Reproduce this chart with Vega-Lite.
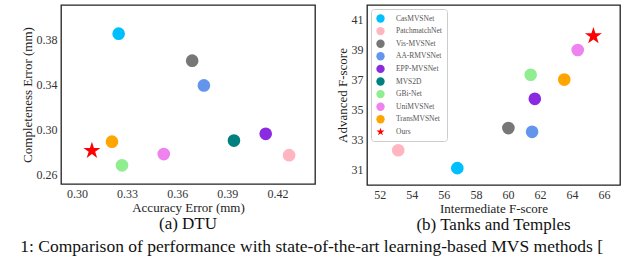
{
  "$schema": "https://vega.github.io/schema/vega-lite/v6.json",
  "padding": {"left": 20, "top": 4, "right": 0, "bottom": 0},
  "background": "white",
  "datasets": {
    "dtu": [
      {"method": "CasMVSNet", "x": 0.325, "y": 0.385},
      {"method": "PatchmatchNet", "x": 0.427, "y": 0.277},
      {"method": "Vis-MVSNet", "x": 0.369, "y": 0.361},
      {"method": "AA-RMVSNet", "x": 0.376, "y": 0.339},
      {"method": "EPP-MVSNet", "x": 0.413, "y": 0.296},
      {"method": "MVS2D", "x": 0.394, "y": 0.290},
      {"method": "GBi-Net", "x": 0.327, "y": 0.268},
      {"method": "UniMVSNet", "x": 0.352, "y": 0.278},
      {"method": "TransMVSNet", "x": 0.321, "y": 0.289},
      {"method": "Ours", "x": 0.309, "y": 0.281}
    ],
    "tt": [
      {"method": "CasMVSNet", "x": 56.84, "y": 31.12},
      {"method": "PatchmatchNet", "x": 53.15, "y": 32.31},
      {"method": "Vis-MVSNet", "x": 60.03, "y": 33.78},
      {"method": "AA-RMVSNet", "x": 61.51, "y": 33.53},
      {"method": "EPP-MVSNet", "x": 61.68, "y": 35.72},
      {"method": "GBi-Net", "x": 61.42, "y": 37.32},
      {"method": "UniMVSNet", "x": 64.36, "y": 38.96},
      {"method": "TransMVSNet", "x": 63.52, "y": 37.00},
      {"method": "Ours", "x": 65.34, "y": 39.89}
    ]
  },
  "title": {
    "text": "1: Comparison of performance with state-of-the-art learning-based MVS methods [",
    "orient": "bottom",
    "font": "Liberation Serif",
    "fontSize": 17.5,
    "fontWeight": "normal",
    "color": "#111",
    "offset": 4
  },
  "spacing": 19,
  "resolve": {"legend": {"color": "independent", "shape": "independent"}},
  "config": {
    "view": {"stroke": "#222", "strokeWidth": 1.3},
    "axis": {
      "grid": false, "ticks": false, "domain": false,
      "labelFont": "Liberation Serif", "labelFontSize": 12, "labelColor": "#333", "labelPadding": 4,
      "titleFont": "Liberation Serif", "titleFontSize": 13, "titleFontWeight": "normal", "titleColor": "#222", "titlePadding": 2
    },
    "title": {"font": "Liberation Serif", "fontSize": 17, "fontWeight": "normal", "color": "#111"}
  },
  "hconcat": [
    {
      "width": 254, "height": 179,
      "data": {"name": "dtu"},
      "title": {"text": "(a) DTU", "orient": "bottom", "offset": 2, "frame": "group"},
      "mark": {"type": "point", "filled": true, "opacity": 1},
      "encoding": {
        "x": {"field": "x", "type": "quantitative", "title": "Accuracy Error (mm)",
              "scale": {"domain": [0.2905, 0.4425], "nice": false, "zero": false},
              "axis": {"values": [0.30, 0.33, 0.36, 0.39, 0.42], "format": ".2f"}},
        "y": {"field": "y", "type": "quantitative", "title": "Completeness Error (mm)",
              "scale": {"domain": [0.2514, 0.4105], "nice": false, "zero": false},
              "axis": {"values": [0.26, 0.30, 0.34, 0.38], "format": ".2f"}},
        "color": {"field": "method", "type": "nominal", "legend": null,
                  "scale": {"domain": ["CasMVSNet", "PatchmatchNet", "Vis-MVSNet", "AA-RMVSNet", "EPP-MVSNet", "MVS2D", "GBi-Net", "UniMVSNet", "TransMVSNet", "Ours"],
                            "range": ["#00bfff", "#ffb6c1", "#777777", "#6495ed", "#8a2be2", "#008080", "#90ee90", "#ee82ee", "#ffa500", "#ff0000"]}},
        "shape": {"field": "method", "type": "nominal", "legend": null,
                  "scale": {"domain": ["CasMVSNet", "PatchmatchNet", "Vis-MVSNet", "AA-RMVSNet", "EPP-MVSNet", "MVS2D", "GBi-Net", "UniMVSNet", "TransMVSNet", "Ours"],
                            "range": ["circle", "circle", "circle", "circle", "circle", "circle", "circle", "circle", "circle", "M0,-1L0.2245,-0.309L0.951,-0.309L0.3633,0.118L0.588,0.809L0,0.382L-0.588,0.809L-0.3633,0.118L-0.951,-0.309L-0.2245,-0.309Z"]}},
        "size": {"condition": {"test": "datum.method === 'Ours'", "value": 320}, "value": 160}
      }
    },
    {
      "width": 253, "height": 180,
      "data": {"name": "tt"},
      "title": {"text": "(b) Tanks and Temples", "orient": "bottom", "offset": 2, "frame": "group"},
      "mark": {"type": "point", "filled": true, "opacity": 1},
      "encoding": {
        "x": {"field": "x", "type": "quantitative", "title": "Intermediate F-score",
              "scale": {"domain": [51.2, 67.0], "nice": false, "zero": false},
              "axis": {"values": [52, 54, 56, 58, 60, 62, 64, 66]}},
        "y": {"field": "y", "type": "quantitative", "title": "Advanced F-score",
              "scale": {"domain": [30.0, 41.95], "nice": false, "zero": false},
              "axis": {"values": [31, 33, 35, 37, 39, 41]}},
        "color": {"field": "method", "type": "nominal",
                  "scale": {"domain": ["CasMVSNet", "PatchmatchNet", "Vis-MVSNet", "AA-RMVSNet", "EPP-MVSNet", "MVS2D", "GBi-Net", "UniMVSNet", "TransMVSNet", "Ours"],
                            "range": ["#00bfff", "#ffb6c1", "#777777", "#6495ed", "#8a2be2", "#008080", "#90ee90", "#ee82ee", "#ffa500", "#ff0000"]},
                  "legend": {"orient": "top-left", "offset": 4, "title": null,
                             "strokeColor": "#cccccc", "fillColor": "white", "cornerRadius": 3, "padding": 5,
                             "labelFont": "Liberation Serif", "labelFontSize": 7.5, "labelColor": "#555",
                             "symbolSize": 70, "symbolStrokeWidth": 0, "rowPadding": 3.6, "labelOffset": 11}},
        "shape": {"field": "method", "type": "nominal",
                  "scale": {"domain": ["CasMVSNet", "PatchmatchNet", "Vis-MVSNet", "AA-RMVSNet", "EPP-MVSNet", "MVS2D", "GBi-Net", "UniMVSNet", "TransMVSNet", "Ours"],
                            "range": ["circle", "circle", "circle", "circle", "circle", "circle", "circle", "circle", "circle", "M0,-1L0.2245,-0.309L0.951,-0.309L0.3633,0.118L0.588,0.809L0,0.382L-0.588,0.809L-0.3633,0.118L-0.951,-0.309L-0.2245,-0.309Z"]},
                  "legend": {"orient": "top-left", "offset": 4, "title": null,
                             "strokeColor": "#cccccc", "fillColor": "white", "cornerRadius": 3, "padding": 5,
                             "labelFont": "Liberation Serif", "labelFontSize": 7.5, "labelColor": "#555",
                             "symbolSize": 70, "symbolStrokeWidth": 0, "rowPadding": 3.6, "labelOffset": 11}},
        "size": {"condition": {"test": "datum.method === 'Ours'", "value": 320}, "value": 160}
      }
    }
  ]
}
